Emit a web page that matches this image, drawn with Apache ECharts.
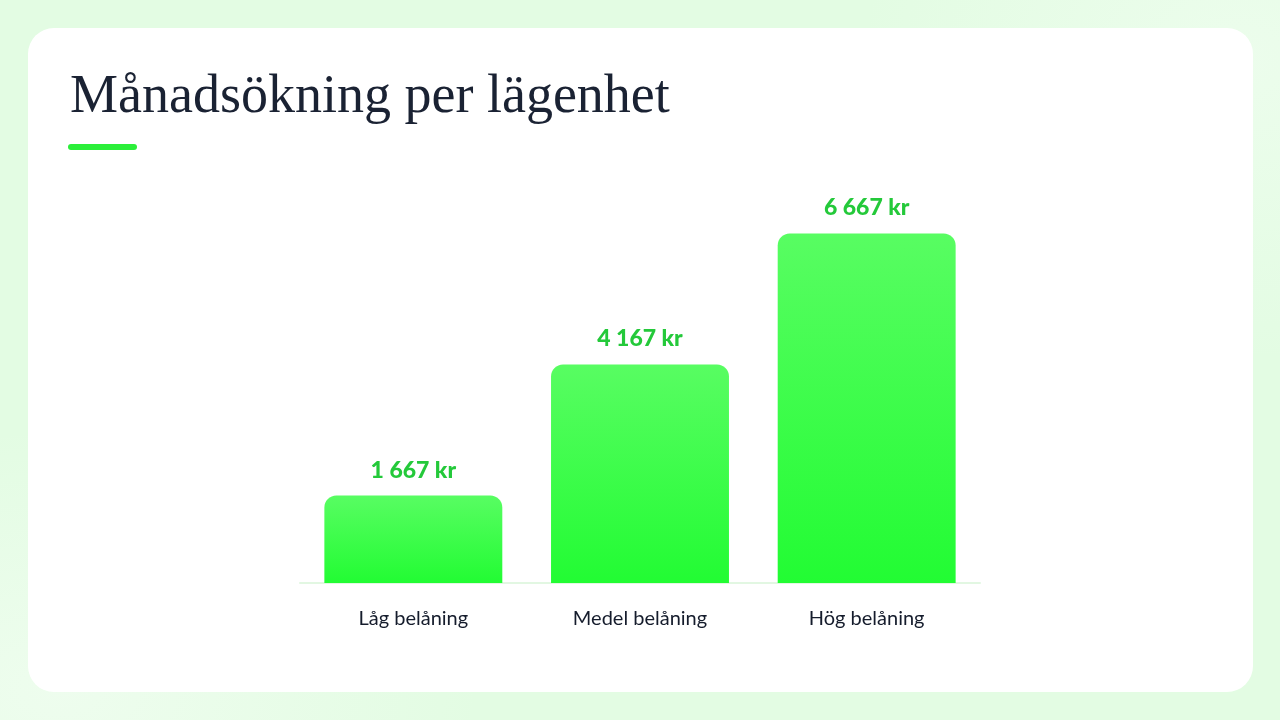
<!DOCTYPE html>
<html>
<head>
<meta charset="utf-8">
<title>Månadsökning per lägenhet</title>
<script src="https://cdn.jsdelivr.net/npm/echarts@6/dist/echarts.min.js"></script>
<style>
  html, body {
    margin: 0;
    padding: 0;
    width: 1280px;
    height: 720px;
    overflow: hidden;
  }
  body {
    background:
      radial-gradient(ellipse 420px 260px at 60px 690px, #eefdee 0%, rgba(238,253,238,0) 100%),
      radial-gradient(ellipse 380px 300px at 1240px 60px, #ecfdec 0%, rgba(236,253,236,0) 100%),
      #e3fce3;
  }
  #card {
    position: absolute;
    left: 28px;
    top: 28px;
    width: 1225px;
    height: 664px;
    background: #ffffff;
    border-radius: 26px;
  }
  #chart-container {
    position: absolute;
    left: 0;
    top: 0;
    width: 1280px;
    height: 720px;
  }
</style>
</head>
<body>
<div id="card"></div>
<div id="chart-container"></div>
<script>
var categories = ["Låg belåning", "Medel belåning", "Hög belåning"];
var values = [1667, 4167, 6667];

var dom = document.getElementById("chart-container");
var myChart = echarts.init(dom, null, { renderer: "canvas" });

// "6667" -> "6 667 kr"
function formatKr(v) {
  return String(v).replace(/\B(?=(\d{3})+(?!\d))/g, " ") + " kr";
}

var option = {
  backgroundColor: "transparent",
  animation: false,
  title: {
    text: "Månadsökning per lägenhet",
    left: 65,
    top: 66,
    textStyle: {
      fontFamily: "Liberation Serif",
      fontWeight: "normal",
      fontSize: 54,
      color: "#1a2233"
    }
  },
  graphic: [
    {
      type: "rect",
      left: 68,
      top: 144,
      shape: { width: 69, height: 6, r: 3 },
      style: { fill: "#2bef3a" }
    }
  ],
  grid: {
    left: 300,
    right: 300,
    top: 216,
    bottom: 137
  },
  xAxis: {
    type: "category",
    data: categories,
    axisLine: { lineStyle: { color: "#e2f7e2", width: 2 } },
    axisTick: { show: false },
    axisLabel: {
      margin: 26,
      fontFamily: "Lato",
      fontSize: 20,
      color: "#151c2c"
    }
  },
  yAxis: {
    type: "value",
    min: 0,
    max: 7000,
    show: false,
    splitLine: { show: false }
  },
  series: [
    {
      type: "bar",
      data: values,
      barWidth: "78.5%",
      itemStyle: {
        borderRadius: [12, 12, 0, 0],
        color: new echarts.graphic.LinearGradient(0, 0, 0, 1, [
          { offset: 0, color: "#58fd62" },
          { offset: 1, color: "#22fc33" }
        ])
      },
      label: {
        show: true,
        position: "top",
        distance: 14,
        fontFamily: "Lato",
        fontWeight: 900,
        fontSize: 23,
        color: "#24c93a",
        formatter: function (p) {
          return formatKr(p.value);
        }
      }
    }
  ]
};

myChart.setOption(option);
window.addEventListener("resize", myChart.resize);
</script>
</body>
</html>
